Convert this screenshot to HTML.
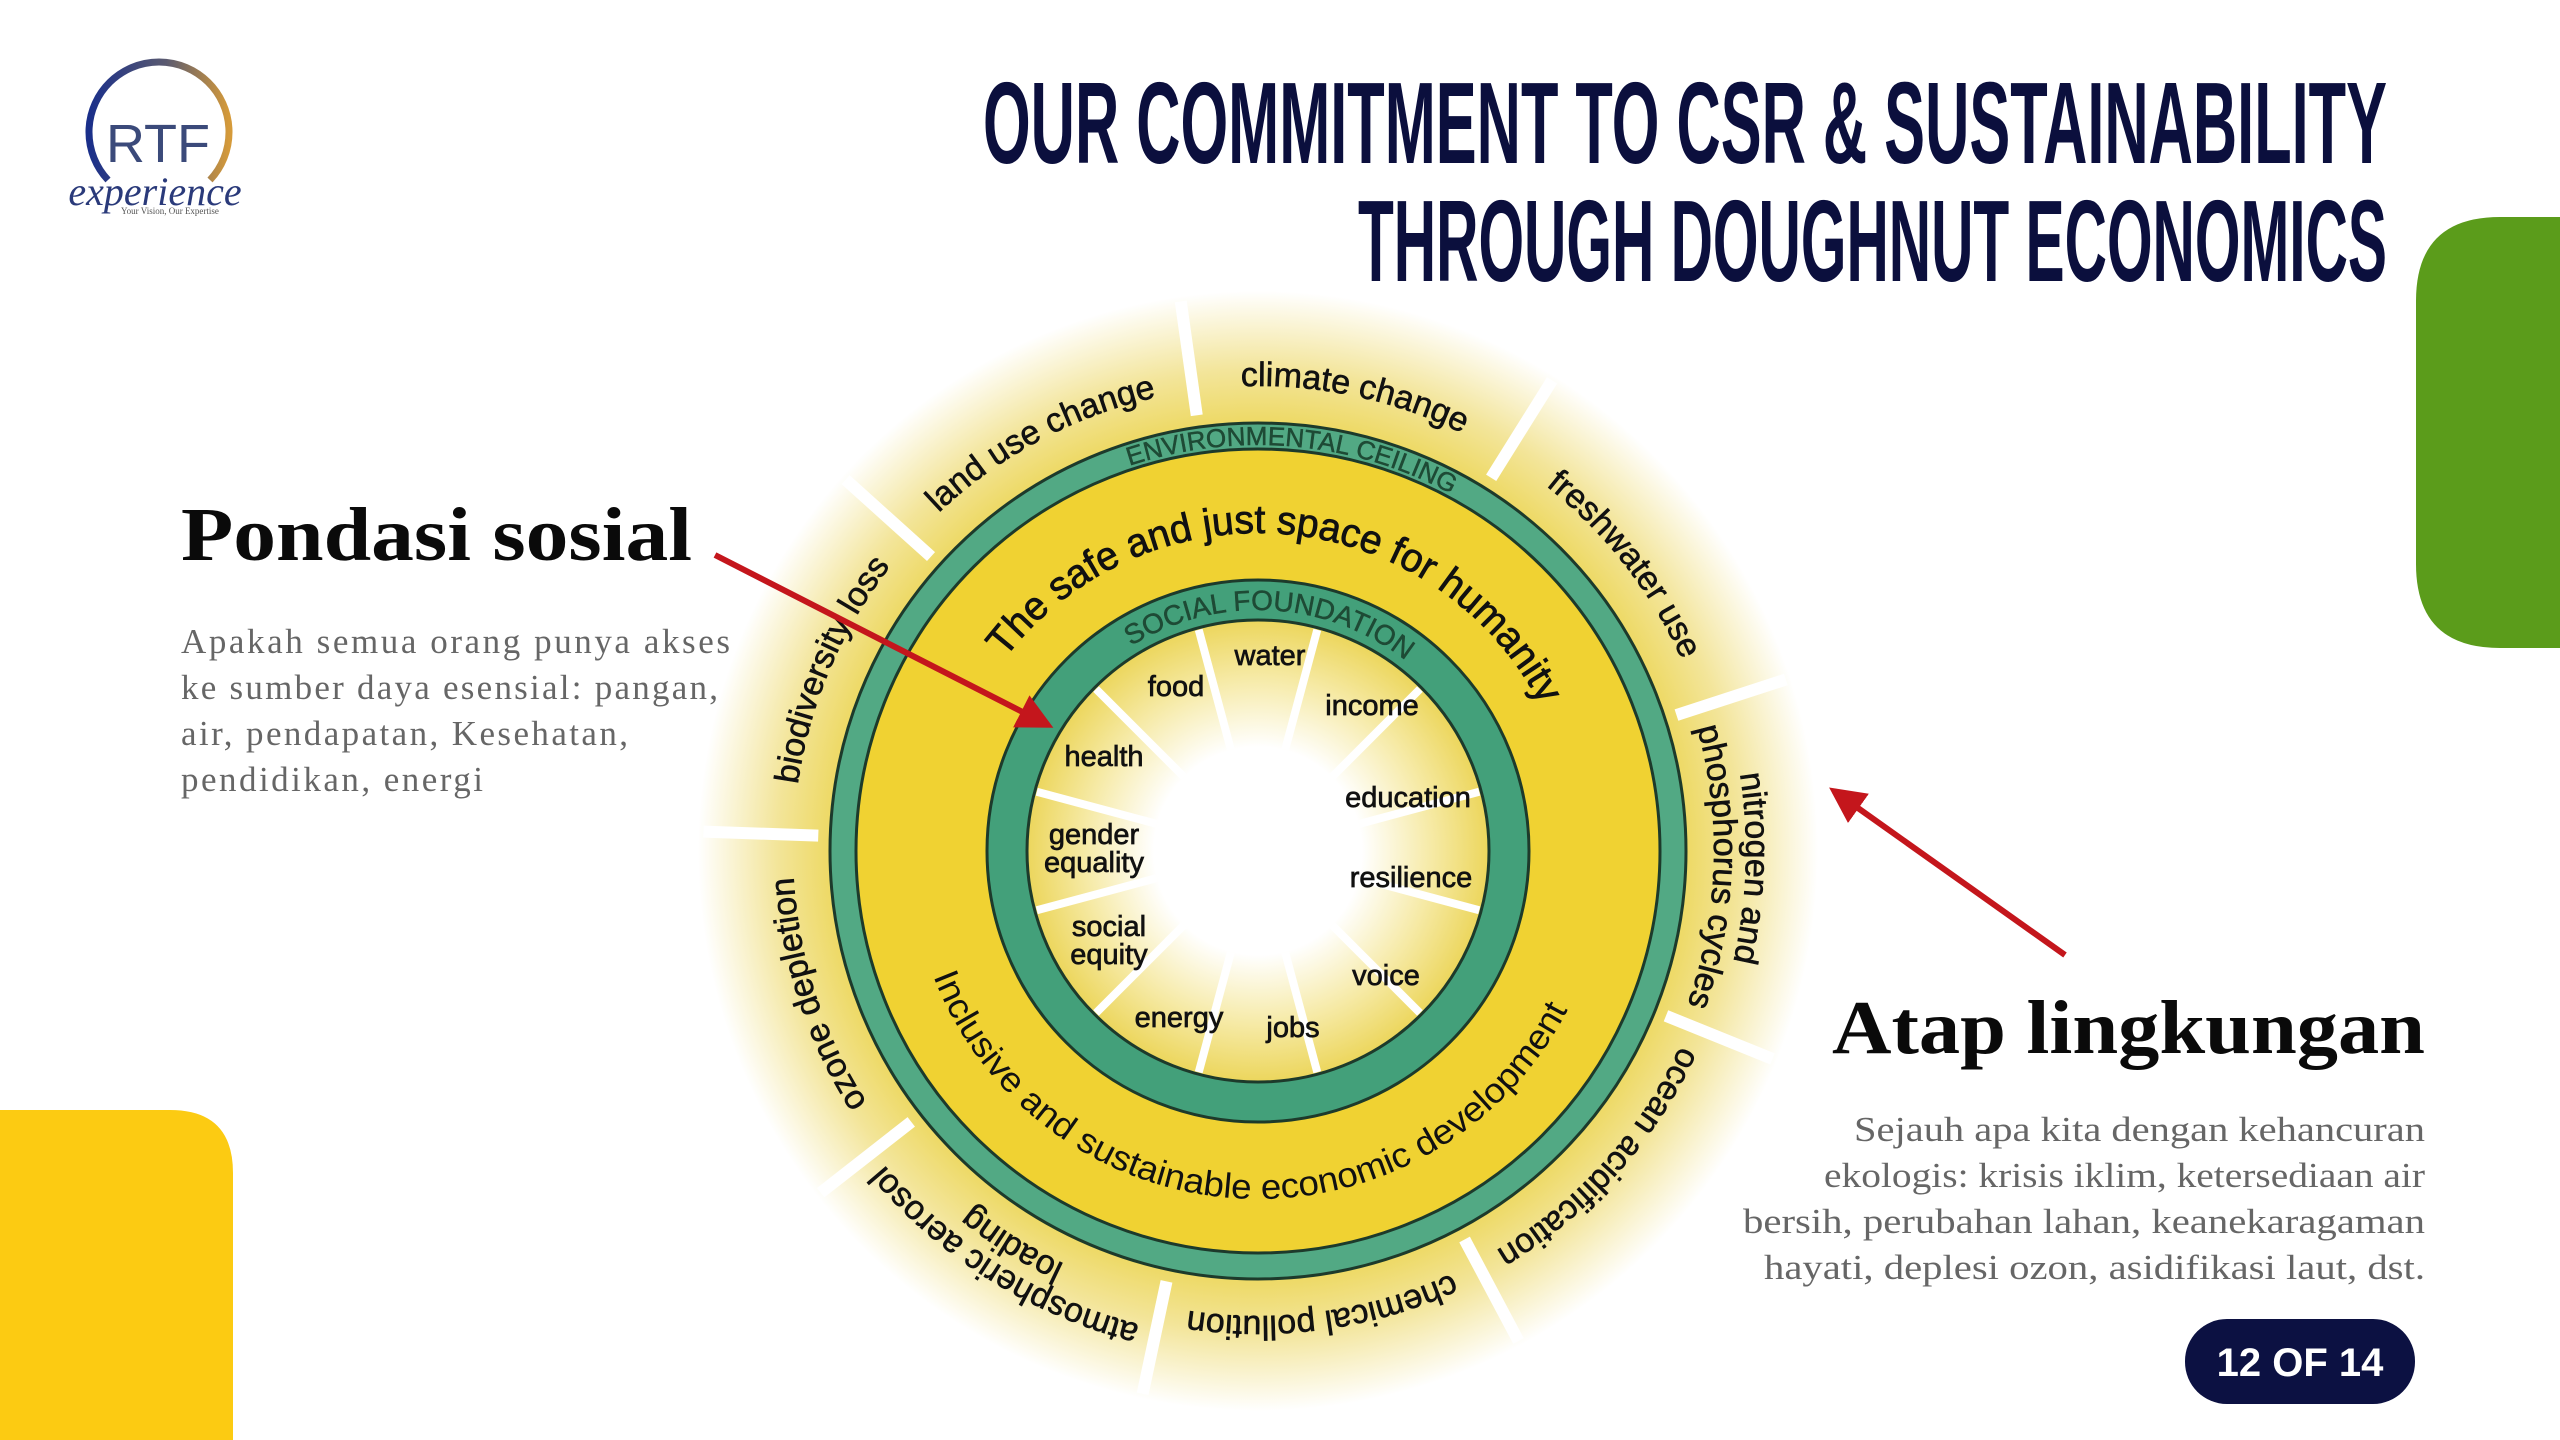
<!DOCTYPE html>
<html><head><meta charset="utf-8"><style>
html,body{margin:0;padding:0;background:#fff;}
svg{display:block;}
</style></head><body>
<svg width="2560" height="1440" viewBox="0 0 2560 1440" xmlns="http://www.w3.org/2000/svg">
<defs>
<radialGradient id="glow" cx="1258" cy="851" r="560" gradientUnits="userSpaceOnUse">
<stop offset="0.74" stop-color="#ecd657"/>
<stop offset="0.86" stop-color="#f3e59a"/>
<stop offset="1" stop-color="#ffffff"/>
</radialGradient>
<radialGradient id="core" cx="1258" cy="851" r="231" gradientUnits="userSpaceOnUse">
<stop offset="0.45" stop-color="#ffffff"/>
<stop offset="0.75" stop-color="#f6eaa6"/>
<stop offset="1" stop-color="#ecd65c"/>
</radialGradient>
<linearGradient id="logo" x1="0" x2="1" y1="0" y2="0">
<stop offset="0" stop-color="#1a2f8a"/>
<stop offset="0.55" stop-color="#5a5a70"/>
<stop offset="1" stop-color="#d59a3a"/>
</linearGradient>
<marker id="ah" markerWidth="6" markerHeight="6" refX="5" refY="3" orient="auto" markerUnits="strokeWidth">
<path d="M0,0 L6,3 L0,6 z" fill="#c4161c"/>
</marker>
<path id="p465" d="M1258,1316 A465,465 0 0 1 1258,386 A465,465 0 0 1 1258,1316"/>
<path id="p488" d="M1258,1339 A488,488 0 0 1 1258,363 A488,488 0 0 1 1258,1339"/>
<path id="p456" d="M1258,1307 A456,456 0 0 1 1258,395 A456,456 0 0 1 1258,1307"/>
<path id="p406" d="M1258,1257 A406,406 0 0 1 1258,445 A406,406 0 0 1 1258,1257"/>
<path id="p241" d="M1258,1092 A241,241 0 0 1 1258,610 A241,241 0 0 1 1258,1092"/>
<path id="p318" d="M1258,1169 A318,318 0 0 1 1258,533 A318,318 0 0 1 1258,1169"/>
<path id="pinc" d="M910,851 A348,348 0 0 0 1606,851"/>
</defs>

<path d="M2500,217 H2560 V648 H2500 Q2416,648 2416,564 V301 Q2416,217 2500,217 z" fill="#5b9c1b"/>
<path d="M0,1110 H170 Q233,1110 233,1173 V1440 H0 z" fill="#fccb12"/>

<path d="M108,180 A70,70 0 1 1 210,180" fill="none" stroke="url(#logo)" stroke-width="7"/>
<text x="158" y="162" text-anchor="middle" font-family="Liberation Sans, sans-serif" font-size="54" fill="#3b4a7a">RTF</text>
<text x="155" y="205" text-anchor="middle" font-family="Liberation Serif, serif" font-style="italic" font-size="40" fill="#2a3a7a">experience</text>
<text x="170" y="214" text-anchor="middle" font-family="Liberation Serif, serif" font-size="9" fill="#555">Your Vision, Our Expertise</text>

<text x="983" y="163" textLength="1404" lengthAdjust="spacingAndGlyphs" font-family="Liberation Sans, sans-serif" font-weight="bold" font-size="116" fill="#0b0f3d">OUR COMMITMENT TO CSR &amp; SUSTAINABILITY</text>
<text x="1358" y="281" textLength="1029" lengthAdjust="spacingAndGlyphs" font-family="Liberation Sans, sans-serif" font-weight="bold" font-size="116" fill="#0b0f3d">THROUGH DOUGHNUT ECONOMICS</text>

<circle cx="1258" cy="851" r="560" fill="url(#glow)"/>
<g stroke="#fff" stroke-width="12">
<line x1="1258" y1="411" x2="1258" y2="296" transform="rotate(-8 1258 851)"/>
<line x1="1258" y1="411" x2="1258" y2="296" transform="rotate(32 1258 851)"/>
<line x1="1258" y1="411" x2="1258" y2="296" transform="rotate(72 1258 851)"/>
<line x1="1258" y1="411" x2="1258" y2="296" transform="rotate(112 1258 851)"/>
<line x1="1258" y1="411" x2="1258" y2="296" transform="rotate(152 1258 851)"/>
<line x1="1258" y1="411" x2="1258" y2="296" transform="rotate(192 1258 851)"/>
<line x1="1258" y1="411" x2="1258" y2="296" transform="rotate(232 1258 851)"/>
<line x1="1258" y1="411" x2="1258" y2="296" transform="rotate(272 1258 851)"/>
<line x1="1258" y1="411" x2="1258" y2="296" transform="rotate(312 1258 851)"/>
</g>
<circle cx="1258" cy="851" r="415" fill="#f0d232" stroke="#52a984" stroke-width="26"/>
<circle cx="1258" cy="851" r="428" fill="none" stroke="#1d3a2b" stroke-width="3"/>
<circle cx="1258" cy="851" r="402" fill="none" stroke="#1d3a2b" stroke-width="3"/>
<circle cx="1258" cy="851" r="251" fill="url(#core)" stroke="#43a07a" stroke-width="40"/>
<circle cx="1258" cy="851" r="271" fill="none" stroke="#1d3a2b" stroke-width="3"/>
<circle cx="1258" cy="851" r="231" fill="none" stroke="#1d3a2b" stroke-width="3"/>
<g stroke="#fff" stroke-width="8">
<line x1="1258" y1="746" x2="1258" y2="622" transform="rotate(15 1258 851)"/>
<line x1="1258" y1="746" x2="1258" y2="622" transform="rotate(45 1258 851)"/>
<line x1="1258" y1="746" x2="1258" y2="622" transform="rotate(75 1258 851)"/>
<line x1="1258" y1="746" x2="1258" y2="622" transform="rotate(105 1258 851)"/>
<line x1="1258" y1="746" x2="1258" y2="622" transform="rotate(135 1258 851)"/>
<line x1="1258" y1="746" x2="1258" y2="622" transform="rotate(165 1258 851)"/>
<line x1="1258" y1="746" x2="1258" y2="622" transform="rotate(195 1258 851)"/>
<line x1="1258" y1="746" x2="1258" y2="622" transform="rotate(225 1258 851)"/>
<line x1="1258" y1="746" x2="1258" y2="622" transform="rotate(255 1258 851)"/>
<line x1="1258" y1="746" x2="1258" y2="622" transform="rotate(285 1258 851)"/>
<line x1="1258" y1="746" x2="1258" y2="622" transform="rotate(315 1258 851)"/>
<line x1="1258" y1="746" x2="1258" y2="622" transform="rotate(345 1258 851)"/>
</g>

<g font-family="Liberation Sans, sans-serif" font-size="34" fill="#111" stroke="#111" stroke-width="0.6" text-anchor="middle">
<g transform="rotate(12 1258 851)"><text><textPath href="#p465" startOffset="50%">climate change</textPath></text></g>
<g transform="rotate(52 1258 851)"><text><textPath href="#p465" startOffset="50%">freshwater use</textPath></text></g>
<g transform="rotate(92 1258 851)"><text><textPath href="#p488" startOffset="50%">nitrogen and</textPath></text><text><textPath href="#p456" startOffset="50%">phosphorus cycles</textPath></text></g>
<g transform="rotate(132 1258 851)"><text><textPath href="#p465" startOffset="50%">ocean acidification</textPath></text></g>
<g transform="rotate(172 1258 851)"><text><textPath href="#p465" startOffset="50%">chemical pollution</textPath></text></g>
<g transform="rotate(212 1258 851)"><text><textPath href="#p488" startOffset="50%">atmospheric aerosol</textPath></text><text><textPath href="#p456" startOffset="50%">loading</textPath></text></g>
<g transform="rotate(252 1258 851)"><text><textPath href="#p465" startOffset="50%">ozone depletion</textPath></text></g>
<g transform="rotate(293 1258 851)"><text><textPath href="#p465" startOffset="50%">biodiversity loss</textPath></text></g>
<g transform="rotate(332 1258 851)"><text><textPath href="#p465" startOffset="50%">land use change</textPath></text></g>
</g>
<g font-family="Liberation Sans, sans-serif" text-anchor="middle" fill="#1e4a35">
<g transform="rotate(5 1258 851)"><text font-size="26" stroke="#1e4a35" stroke-width="0.5"><textPath href="#p406" startOffset="50%">ENVIRONMENTAL CEILING</textPath></text></g>
<g transform="rotate(3 1258 851)"><text font-size="28" stroke="#1e4a35" stroke-width="0.5"><textPath href="#p241" startOffset="50%">SOCIAL FOUNDATION</textPath></text></g>
</g>
<g font-family="Liberation Sans, sans-serif" text-anchor="middle" fill="#111">
<g transform="rotate(5 1258 851)"><text font-size="40" stroke="#111" stroke-width="0.8" textLength="640" lengthAdjust="spacingAndGlyphs"><textPath href="#p318" startOffset="50%">The safe and just space for humanity</textPath></text></g>
<g transform="rotate(3 1258 851)"><text font-size="35" textLength="800" lengthAdjust="spacingAndGlyphs"><textPath href="#pinc" startOffset="50%">Inclusive and sustainable economic development</textPath></text></g>
</g>

<g font-family="Liberation Sans, sans-serif" font-size="29" fill="#111" stroke="#111" stroke-width="0.7" text-anchor="middle">
<text x="1270" y="665">water</text>
<text x="1176" y="696">food</text>
<text x="1372" y="715">income</text>
<text x="1104" y="766">health</text>
<text x="1408" y="807">education</text>
<text x="1094" y="844">gender</text>
<text x="1094" y="872">equality</text>
<text x="1411" y="887">resilience</text>
<text x="1109" y="936">social</text>
<text x="1109" y="964">equity</text>
<text x="1386" y="985">voice</text>
<text x="1179" y="1027">energy</text>
<text x="1293" y="1037">jobs</text>
</g>

<line x1="715" y1="555" x2="1048" y2="725" stroke="#c4161c" stroke-width="6" marker-end="url(#ah)"/>
<line x1="2065" y1="955" x2="1834" y2="791" stroke="#c4161c" stroke-width="6" marker-end="url(#ah)"/>

<text x="181" y="560" textLength="511" lengthAdjust="spacingAndGlyphs" font-family="Liberation Serif, serif" font-weight="bold" font-size="76" fill="#0a0a0a">Pondasi sosial</text>
<g font-family="Liberation Serif, serif" font-size="35" fill="#666" lengthAdjust="spacingAndGlyphs">
<text x="181" y="653" textLength="549">Apakah semua orang punya akses</text>
<text x="181" y="699" textLength="537">ke sumber daya esensial: pangan,</text>
<text x="181" y="745" textLength="447">air, pendapatan, Kesehatan,</text>
<text x="181" y="791" textLength="302">pendidikan, energi</text>
</g>

<text x="1832" y="1053" textLength="593" lengthAdjust="spacingAndGlyphs" font-family="Liberation Serif, serif" font-weight="bold" font-size="76" fill="#0a0a0a">Atap lingkungan</text>
<g font-family="Liberation Serif, serif" font-size="35" fill="#666">
<text x="1854" y="1141" textLength="571" lengthAdjust="spacingAndGlyphs">Sejauh apa kita dengan kehancuran</text>
<text x="1824" y="1187" textLength="601" lengthAdjust="spacingAndGlyphs">ekologis: krisis iklim, ketersediaan air</text>
<text x="1743" y="1233" textLength="682" lengthAdjust="spacingAndGlyphs">bersih, perubahan lahan, keanekaragaman</text>
<text x="1764" y="1279" textLength="661" lengthAdjust="spacingAndGlyphs">hayati, deplesi ozon, asidifikasi laut, dst.</text>
</g>

<rect x="2185" y="1319" width="230" height="85" rx="42" fill="#0c1142"/>
<text x="2300" y="1376" text-anchor="middle" font-family="Liberation Sans, sans-serif" font-weight="bold" font-size="40" fill="#fff">12 OF 14</text>
</svg>
</body></html>
